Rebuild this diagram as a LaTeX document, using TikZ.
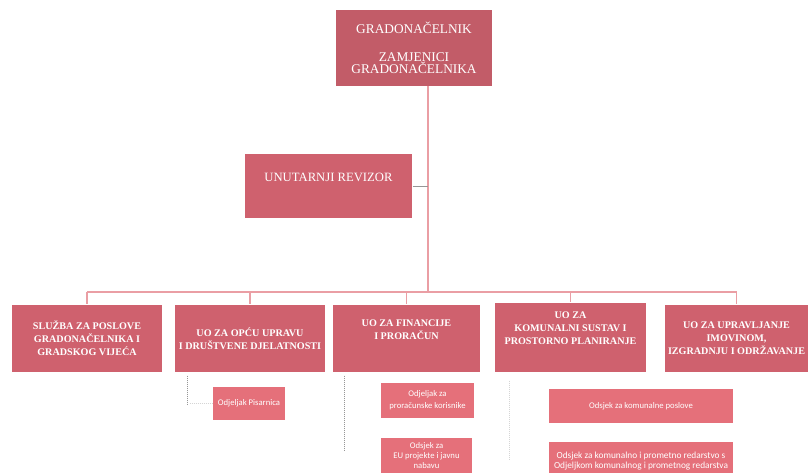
\documentclass[tikz,border=0pt]{standalone}
\usepackage{fontspec}
\setmainfont{Liberation Serif}
\newfontfamily\calibrifont{Carlito}
\usetikzlibrary{calc}
\definecolor{headred}{RGB}{194,92,104}
\definecolor{unitred}{RGB}{207,97,110}
\definecolor{subred}{RGB}{229,112,122}
\definecolor{linkpink}{RGB}{234,158,164}
\definecolor{trailgray}{RGB}{150,150,150}
\tikzset{every picture/.style={line width=0.75pt}}

\begin{document}
\begin{tikzpicture}[x=0.75pt,y=0.75pt,yscale=-1,xscale=1,
  unitbox/.style={fill=unitred, text=white, inner sep=0.75pt, align=center, font=\fontsize{7.6}{9.8}\selectfont\bfseries},
  subbox/.style={fill=subred, text=white, inner sep=0.75pt, align=center, font=\calibrifont\fontsize{6.5}{9}\selectfont},
  link/.style={draw=linkpink, line width=1.1pt},
  trail/.style={draw=trailgray, densely dotted, line width=0.5pt}]
\useasboundingbox (0,0) rectangle (809,473);

%Head
\node[unitbox, fill=headred, font=\fontsize{10}{9}\selectfont, minimum width=117pt, minimum height=57pt] (head) at (414,48) {GRADONAČELNIK\\[12pt]ZAMJENICI\\GRADONAČELNIKA};
%Internal audit
\node[unitbox, font=\fontsize{9.5}{10}\selectfont, minimum width=125.25pt, minimum height=48pt] (revizor) at (328.5,186) {UNUTARNJI REVIZOR\\[3pt]};

%Units
\node[unitbox, minimum width=112.5pt, minimum height=50.25pt] (sluzba) at (87,338.5) {SLUŽBA ZA POSLOVE\\GRADONAČELNIKA I\\GRADSKOG VIJEĆA};
\node[unitbox, minimum width=112.5pt, minimum height=50.25pt] (uprava) at (250,338.5) {UO ZA OPĆU UPRAVU\\I DRUŠTVENE DJELATNOSTI};
\node[unitbox, minimum width=110.25pt, minimum height=50.25pt] (financije) at (406.5,338.5) {UO ZA FINANCIJE\\I PRORAČUN\\[4pt]};
\node[unitbox, minimum width=113.25pt, minimum height=51.75pt] (komunalni) at (570.5,337.5) {UO ZA\\KOMUNALNI SUSTAV I\\PROSTORNO PLANIRANJE\\[4pt]};
\node[unitbox, minimum width=107.25pt, minimum height=50.25pt] (imovina) at (736.5,338.5) {UO ZA UPRAVLJANJE\\IMOVINOM,\\IZGRADNJU I ODRŽAVANJE};

%Departments
\node[subbox, minimum width=54pt, minimum height=24.75pt] (pisarnica) at (249,403.5) {Odjeljak Pisarnica};
\node[subbox, minimum width=69.75pt, minimum height=26.25pt] (proracunski) at (427.5,400.5) {Odjeljak za\\proračunske korisnike};
\node[subbox, font=\calibrifont\fontsize{6.5}{7.5}\selectfont, minimum width=68.25pt, minimum height=27pt] (nabava) at (426.5,456) {Odsjek za\\EU projekte i javnu\\nabavu};
\node[subbox, minimum width=138pt, minimum height=25.5pt] (poslovi) at (641,406) {Odsjek za komunalne poslove};
\node[subbox, font=\calibrifont\fontsize{7}{8}\selectfont, minimum width=138pt, minimum height=28pt] (redarstvo) at (641,461) {Odsjek za komunalno i prometno redarstvo s\\Odjeljkom komunalnog i prometnog redarstva};

%Connectors
\coordinate (spine) at (428,292);
\draw[link] (head.south -| spine) -- (spine);
\draw[link] (sluzba.north |- spine) -- (imovina.north |- spine);
\foreach \u in {sluzba,uprava,financije,komunalni,imovina}
  \draw[link] (\u.north |- spine) -- (\u.north);
\draw[draw=trailgray, line width=0.5pt] (revizor.east) -- (revizor.east -| spine);

%Dotted trails
\draw[trail] ($(uprava.south west)+(13,3)$) -- ++(0,30);
\draw[trail, draw=trailgray!40] ($(uprava.south west)+(15,31)$) -- (pisarnica.west);
\draw[trail] ($(financije.south west)+(12,3)$) -- ++(0,76);
\draw[trail, draw=trailgray!40] ($(komunalni.south west)+(15,8)$) -- ++(0,80);

\end{tikzpicture}
\end{document}
